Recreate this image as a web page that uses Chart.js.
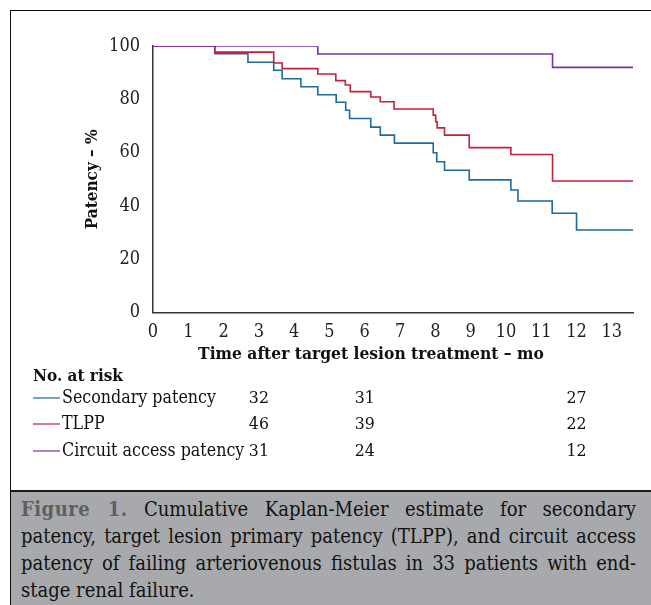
<!DOCTYPE html>
<html><head><meta charset="utf-8">
<script src="https://cdn.jsdelivr.net/npm/chart.js@4.4.1/dist/chart.umd.min.js"></script>
<style>
html,body{margin:0;padding:0;background:#fff;}
body{width:651px;height:605px;position:relative;overflow:hidden;}
#frame{position:absolute;left:10px;top:10px;width:651px;height:600px;border-left:1.5px solid #111;border-top:1.5px solid #111;}
#wrap{position:absolute;left:0;top:0;width:651px;height:490px;}
#caption{position:absolute;left:11px;top:490px;width:640px;height:115px;background:#a7a9ac;border-top:2px solid #1a1a1a;box-sizing:border-box;
 padding:4px 15px 0 10px;font-family:"DejaVu Serif Condensed","DejaVu Serif",serif;font-size:20px;line-height:27px;color:#111;}
#caption div{white-space:nowrap;text-align:justify;text-align-last:justify;}
#caption div.last{text-align-last:left;}
#caption b{color:#5e5f62;letter-spacing:0.5px;}
</style></head><body>
<div id="frame"></div>
<div id="wrap"><canvas id="c" width="651" height="490"></canvas></div>
<div id="caption"><div><b>Figure 1.</b> Cumulative Kaplan-Meier estimate for secondary</div><div>patency, target lesion primary patency (TLPP), and circuit access</div><div>patency of failing arteriovenous fistulas in 33 patients with end-</div><div class="last">stage renal failure.</div></div>
<script>
// Data (months, % patency; step changes)
const secTimes = [0,1.75,2.69,3.42,3.66,4.19,4.67,5.19,5.46,5.57,6.17,6.44,6.84,7.94,8.04,8.26,8.96,10.14,10.34,11.31,12.0,13.6];
const secVals  = [100,97.1,93.9,90.9,87.7,84.7,81.7,78.9,75.9,72.8,69.6,66.6,63.6,60.0,56.6,53.4,49.8,46.0,41.9,37.3,31.0,31.0];
const tlppTimes = [0,1.75,3.42,3.66,4.67,5.18,5.45,5.59,6.17,6.44,6.83,7.94,8.01,8.05,8.26,8.96,10.14,11.32,13.6];
const tlppVals  = [100,97.7,93.6,91.5,89.5,87.0,85.4,82.9,80.9,79.1,76.4,74.1,71.6,69.3,66.6,61.9,59.3,49.4,49.4];
const capTimes = [0,4.67,11.32,13.6];
const capVals  = [100,97,92,92];
const seriesNames = ["Secondary patency","TLPP","Circuit access patency"];
const seriesColors = ["#1c6a9e","#c4203c","#7434a6"];
const riskTimes = [3,6,12];
const riskSec  = [32,31,27];
const riskTlpp = [46,39,22];
const riskCap  = [31,24,12];
const xTicks = [0,1,2,3,4,5,6,7,8,9,10,11,12,13];
const yTicks = [0,20,40,60,80,100];

const pts = (t,v)=>t.map((x,i)=>({x:x,y:v[i]}));
const SERIF = '"DejaVu Serif Condensed", "DejaVu Serif", serif';

const riskPlugin = {
  id:'risk',
  afterDraw(chart){
    const ctx = chart.ctx, xs = chart.scales.x;
    ctx.save();
    ctx.fillStyle = '#111';
    ctx.textBaseline = 'middle';
    ctx.font = 'bold 17.3px ' + SERIF;
    ctx.textAlign = 'center';
    ctx.fillText('Time after target lesion treatment \u2013 mo', 371, 355);
    ctx.font = 'bold 17px ' + SERIF;
    ctx.textAlign = 'left';
    ctx.fillText('No. at risk', 33, 377);
    const rows = [riskSec, riskTlpp, riskCap];
    const ys = [398, 424, 451];
    rows.forEach((r,i)=>{
      ctx.strokeStyle = seriesColors[i];
      ctx.lineWidth = 1.2;
      ctx.beginPath(); ctx.moveTo(33, ys[i]); ctx.lineTo(60, ys[i]); ctx.stroke();
      ctx.font = '17.7px ' + SERIF;
      ctx.textAlign = 'left';
      ctx.fillText(seriesNames[i], 62, ys[i]);
      ctx.font = '17.5px ' + SERIF;
      ctx.textAlign = 'center';
      r.forEach((n,j)=>ctx.fillText(String(n), xs.getPixelForValue(riskTimes[j]), ys[i]));
    });
    ctx.restore();
  }
};

new Chart(document.getElementById('c'), {
  type:'line',
  data:{datasets:[
    {label:seriesNames[2], data:pts(capTimes,capVals), borderColor:seriesColors[2], order:0},
    {label:seriesNames[1], data:pts(tlppTimes,tlppVals), borderColor:seriesColors[1], order:1},
    {label:seriesNames[0], data:pts(secTimes,secVals), borderColor:seriesColors[0], order:2}
  ].map(d=>Object.assign(d,{stepped:'before', borderWidth:1.6, pointRadius:0, fill:false, tension:0}))},
  options:{
    responsive:false, animation:false,
    layout:{padding:{left:82, right:18, top:46, bottom:0}},
    plugins:{legend:{display:false}, tooltip:{enabled:false}},
    scales:{
      x:{type:'linear', min:0, max:13.6,
        afterBuildTicks(s){ s.ticks = xTicks.map(v=>({value:v})); },
        afterFit(s){ s.height = 490 - 312.7; },
        grid:{display:false, drawTicks:true, tickLength:6, tickColor:'#333', tickWidth:1.3},
        border:{display:true, color:'#333', width:1.5},
        ticks:{color:'#222', padding:3, font:{family:SERIF, size:18}, maxRotation:0, autoSkip:false}
      },
      y:{min:0, max:100,
        afterBuildTicks(s){ s.ticks = yTicks.map(v=>({value:v})); },
        afterFit(s){ s.width = 153 - 82; },
        grid:{display:false, drawTicks:true, tickLength:7, tickColor:'#333', tickWidth:1.3},
        border:{display:true, color:'#333', width:1.5},
        ticks:{color:'#222', padding:6, font:{family:SERIF, size:18}},
        title:{display:true, text:'Patency \u2013 %', color:'#111', padding:0, font:{family:SERIF, size:17, weight:'bold'}}
      }
    }
  },
  plugins:[riskPlugin]
});
</script>
</body></html>
